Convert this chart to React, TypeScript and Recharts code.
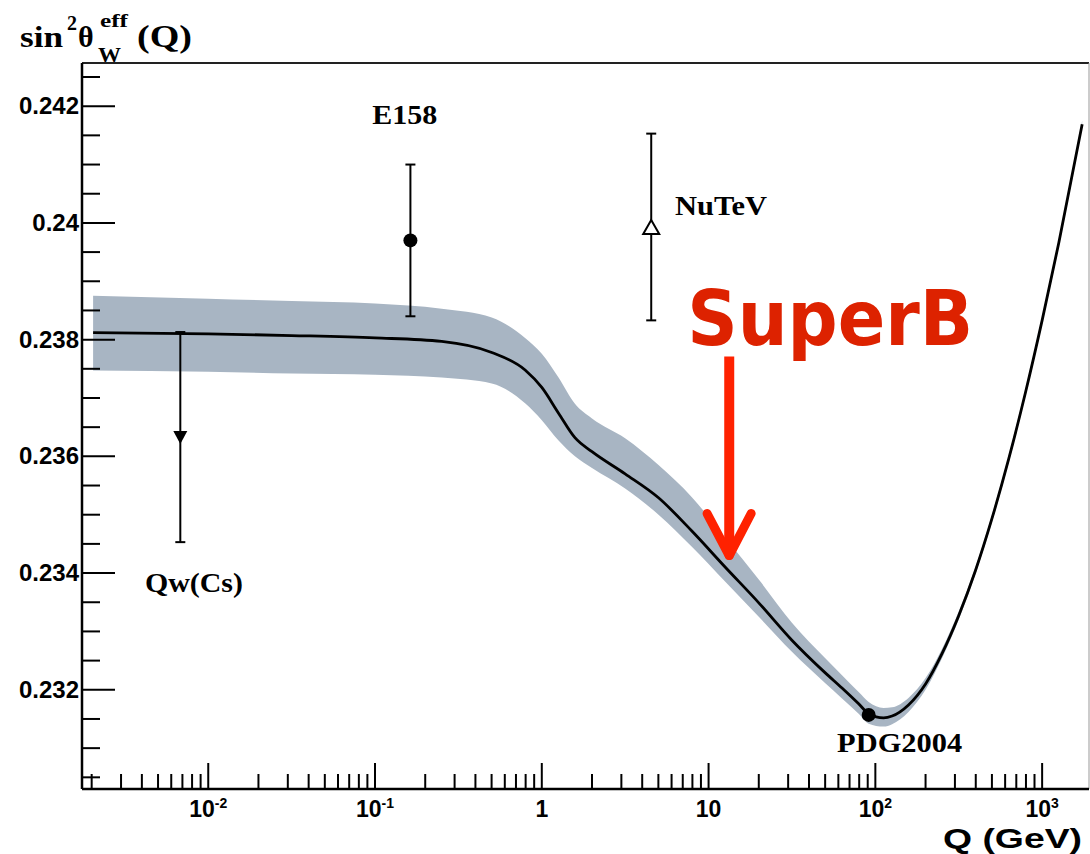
import React from 'react';
import {
  ComposedChart,
  Area,
  Line,
  Scatter,
  XAxis,
  YAxis,
  ErrorBar,
  ReferenceLine,
  ReferenceDot,
} from 'recharts';

// running sin^2 theta_W curve (Q in GeV)
const curveQ = [0.00204, 0.01, 0.0316, 0.1, 0.251, 0.501, 0.794, 1, 1.26, 1.58, 2.0, 3.16, 5.01, 7.94, 12.6, 20.0, 31.6, 50.1, 63.1, 79.4, 91.2, 112, 126, 158, 200, 251, 316, 398, 501, 631, 794, 1000, 1259, 1738];
const curveMid = [0.23812, 0.2381, 0.23807, 0.23803, 0.23797, 0.23778, 0.23748, 0.23718, 0.23674, 0.23632, 0.23608, 0.2357, 0.23529, 0.23472, 0.2341, 0.23349, 0.23285, 0.23229, 0.23203, 0.23176, 0.23159, 0.23152, 0.23155, 0.23174, 0.2321, 0.23262, 0.23327, 0.23404, 0.23494, 0.23596, 0.23709, 0.23833, 0.23966, 0.24169];
const bandHigh = [0.23875, 0.2387, 0.23866, 0.23862, 0.23853, 0.23838, 0.23803, 0.23776, 0.23735, 0.2369, 0.23665, 0.23631, 0.23585, 0.2353, 0.2346, 0.23389, 0.23315, 0.23254, 0.23225, 0.23196, 0.23179, 0.23169, 0.2317, 0.23186, 0.2322, 0.2327, 0.23334, 0.2341, 0.235, 0.23602, 0.23715, 0.23839, 0.23972, 0.24175];
const bandLow = [0.23747, 0.23745, 0.23742, 0.2374, 0.23735, 0.23725, 0.23691, 0.23662, 0.23627, 0.236, 0.2358, 0.23545, 0.235, 0.23445, 0.23385, 0.23325, 0.23265, 0.23211, 0.23185, 0.23159, 0.23142, 0.23137, 0.23141, 0.23162, 0.232, 0.23254, 0.2332, 0.23398, 0.23488, 0.2359, 0.23703, 0.23827, 0.2396, 0.24163];

// measurements
const pointNames = ['Qw(Cs)', 'E158', 'NuTeV', 'PDG2004'];
const pointQ = [0.0068, 0.163, 4.53, 91.2];
const pointVal = [0.23633, 0.2397, 0.23993, 0.23157];
const pointErrLow = [0.0018, 0.0013, 0.0016, 0];
const pointErrHigh = [0.0018, 0.0013, 0.0016, 0];

// axis ticks
const xMajor = [0.01, 0.1, 1, 10, 100, 1000];
const xMajorBase = ['10', '10', '1', '10', '10', '10'];
const xMajorExp = ['-2', '-1', '', '', '2', '3'];
const yTicks = [0.2305, 0.231, 0.2315, 0.232, 0.2325, 0.233, 0.2335, 0.234, 0.2345, 0.235, 0.2355, 0.236, 0.2365, 0.237, 0.2375, 0.238, 0.2385, 0.239, 0.2395, 0.24, 0.2405, 0.241, 0.2415, 0.242, 0.2425];
const yMajor = [0.232, 0.234, 0.236, 0.238, 0.24, 0.242];
const yMajorLabels = ['0.232', '0.234', '0.236', '0.238', '0.24', '0.242'];

const X_DOMAIN = [0.00175, 1910];
const Y_DOMAIN = [0.2303, 0.24274];

const xTicks: number[] = [];
[-3, -2, -1, 0, 1, 2, 3].forEach((e) => {
  for (let m = 1; m <= 9; m++) {
    const v = Number((m * Math.pow(10, e)).toPrecision(6));
    if (v >= X_DOMAIN[0] && v <= X_DOMAIN[1]) xTicks.push(v);
  }
});

const curveData = curveQ.map((q, i) => ({
  q,
  mid: curveMid[i],
  band: [bandLow[i], bandHigh[i]],
}));

const points = pointNames.map((name, i) => ({
  name,
  q: pointQ[i],
  v: pointVal[i],
  err: [pointErrLow[i], pointErrHigh[i]],
}));

const SANS = "'Liberation Sans', Arial, sans-serif";
const SERIF = "'Liberation Serif', 'Times New Roman', serif";
const RED = '#ff2200';

const XTick = (props: any) => {
  const { x, y, payload } = props;
  const idx = xMajor.findIndex((m) => Math.abs(m - payload.value) / m < 1e-6);
  const major = idx >= 0;
  return (
    <g>
      <line x1={x} x2={x} y1={y} y2={y - (major ? 26 : 15)} stroke="#000" strokeWidth={2} />
      {major && (
        <text x={x} y={y + 28} textAnchor="middle" fontFamily={SANS} fontWeight="bold" fontSize={23} fill="#000">
          {xMajorBase[idx]}
          {xMajorExp[idx] && (
            <tspan dy={-9} fontSize={14}>
              {xMajorExp[idx]}
            </tspan>
          )}
        </text>
      )}
    </g>
  );
};

const YTick = (props: any) => {
  const { x, y, payload } = props;
  const idx = yMajor.findIndex((m) => Math.abs(m - payload.value) < 1e-7);
  const major = idx >= 0;
  return (
    <g>
      <line x1={x} x2={x + (major ? 33 : 18)} y1={y} y2={y} stroke="#000" strokeWidth={2} />
      {major && (
        <text x={x - 3} y={y + 8} textAnchor="end" fontFamily={SANS} fontWeight="bold" fontSize={24} fill="#000">
          {yMajorLabels[idx]}
        </text>
      )}
    </g>
  );
};

const YTitle = () => (
  <g fontFamily={SERIF} fontWeight="bold" fill="#000">
    <text x={20} y={47} fontSize={30} textLength={43} lengthAdjust="spacingAndGlyphs">sin</text>
    <text x={67} y={30} fontSize={20}>2</text>
    <text x={78} y={47} fontSize={30}>θ</text>
    <text x={100} y={27} fontSize={18} textLength={28} lengthAdjust="spacingAndGlyphs">eff</text>
    <text x={98} y={62} fontSize={22} textLength={23} lengthAdjust="spacingAndGlyphs">W</text>
    <text x={137} y={47} fontSize={32} textLength={55} lengthAdjust="spacingAndGlyphs">(Q)</text>
  </g>
);

const XTitle = () => (
  <text x={943} y={848} fontFamily={SANS} fontWeight="bold" fontSize={28} textLength={139} lengthAdjust="spacingAndGlyphs" fill="#000">
    Q (GeV)
  </text>
);

const AnnoText = (props: any) => {
  const { viewBox, text, anchor, len, size, font, color, weight } = props;
  return (
    <text
      x={viewBox.x}
      y={viewBox.y}
      textAnchor={anchor}
      fontFamily={font}
      fontWeight={weight}
      fontSize={size}
      fill={color}
      textLength={len}
      lengthAdjust="spacingAndGlyphs"
    >
      {text}
    </text>
  );
};

// annotation positions in data coordinates
const labels = [
  { text: 'Qw(Cs)', q: 0.00417, v: 0.23367, anchor: 'start', len: 98 },
  { text: 'E158', q: 0.151, v: 0.2417, anchor: 'middle', len: 65 },
  { text: 'NuTeV', q: 6.3, v: 0.24014, anchor: 'start', len: 92 },
  { text: 'PDG2004', q: 59, v: 0.23093, anchor: 'start', len: 125 },
];
const arrowQ = 13.3;
const arrowTop = 0.23771;
const arrowTip = 0.2343;
const headY = 0.23502;
const headLeftQ = 9.8;
const headRightQ = 18.0;

const TriDown = ({ cx, cy }: any) => (
  <polygon points={`${cx - 7},${cy - 6} ${cx + 7},${cy - 6} ${cx},${cy + 7}`} fill="#000" />
);
const TriUpOpen = ({ cx, cy }: any) => (
  <polygon points={`${cx - 8},${cy + 7} ${cx + 8},${cy + 7} ${cx},${cy - 7}`} fill="#fff" stroke="#000" strokeWidth={2} />
);
const Dot = ({ cx, cy }: any) => <circle cx={cx} cy={cy} r={7} fill="#000" />;
const shapes = [TriDown, Dot, TriUpOpen, Dot];

export default function App() {
  return (
    <div style={{ position: 'absolute', left: 0, top: 0, width: 1090, height: 854, background: '#fff' }}>
      <ComposedChart width={1090} height={854} margin={{ top: 63, right: 1, bottom: 0, left: 0 }}>
        <XAxis
          dataKey="q"
          type="number"
          scale="log"
          domain={X_DOMAIN}
          allowDataOverflow
          ticks={xTicks}
          interval={0}
          tick={<XTick />}
          tickLine={false}
          tickSize={0}
          tickMargin={0}
          axisLine={{ stroke: '#000', strokeWidth: 2.5 }}
          height={65}
          label={{ content: () => <XTitle /> }}
        />
        <YAxis
          type="number"
          domain={Y_DOMAIN}
          allowDataOverflow
          ticks={yTicks}
          interval={0}
          tick={<YTick />}
          tickLine={false}
          tickSize={0}
          tickMargin={0}
          axisLine={{ stroke: '#000', strokeWidth: 2.5 }}
          width={82}
          label={{ content: () => <YTitle /> }}
        />
        <ReferenceLine y={Y_DOMAIN[1]} stroke="#222" strokeWidth={2} ifOverflow="visible" />
        <ReferenceLine x={X_DOMAIN[1]} stroke="#999" strokeWidth={1} ifOverflow="visible" />
        <Area
          data={curveData}
          dataKey="band"
          type="monotone"
          stroke="none"
          fill="#a8b5c3"
          fillOpacity={1}
          isAnimationActive={false}
        />
        <Line
          data={curveData}
          dataKey="mid"
          type="monotone"
          stroke="#000"
          strokeWidth={2.8}
          dot={false}
          isAnimationActive={false}
        />
        {points.map((p, i) => (
          <Scatter key={p.name} data={[p]} dataKey="v" shape={shapes[i]} isAnimationActive={false}>
            {pointErrHigh[i] > 0 && (
              <ErrorBar dataKey="err" direction="y" width={5} stroke="#000" strokeWidth={2} />
            )}
          </Scatter>
        ))}
        {labels.map((l) => (
          <ReferenceDot
            key={l.text}
            x={l.q}
            y={l.v}
            r={0}
            fill="none"
            stroke="none"
            ifOverflow="visible"
            label={<AnnoText text={l.text} anchor={l.anchor} len={l.len} size={28} font={SERIF} weight="bold" color="#000" />}
          />
        ))}
        <ReferenceLine
          segment={[{ x: arrowQ, y: arrowTop }, { x: arrowQ, y: arrowTip }]}
          stroke={RED}
          strokeWidth={10}
          ifOverflow="visible"
        />
        <ReferenceLine
          segment={[{ x: headLeftQ, y: headY }, { x: arrowQ, y: arrowTip }]}
          stroke={RED}
          strokeWidth={9}
          strokeLinecap="round"
          ifOverflow="visible"
        />
        <ReferenceLine
          segment={[{ x: headRightQ, y: headY }, { x: arrowQ, y: arrowTip }]}
          stroke={RED}
          strokeWidth={9}
          strokeLinecap="round"
          ifOverflow="visible"
        />
        <ReferenceDot
          x={7.45}
          y={0.2379}
          r={0}
          fill="none"
          stroke="none"
          ifOverflow="visible"
          label={<AnnoText text="SuperB" anchor="start" len={286} size={76} font="'DejaVu Sans', sans-serif" weight="bold" color="#dd2200" />}
        />
      </ComposedChart>
    </div>
  );
}
